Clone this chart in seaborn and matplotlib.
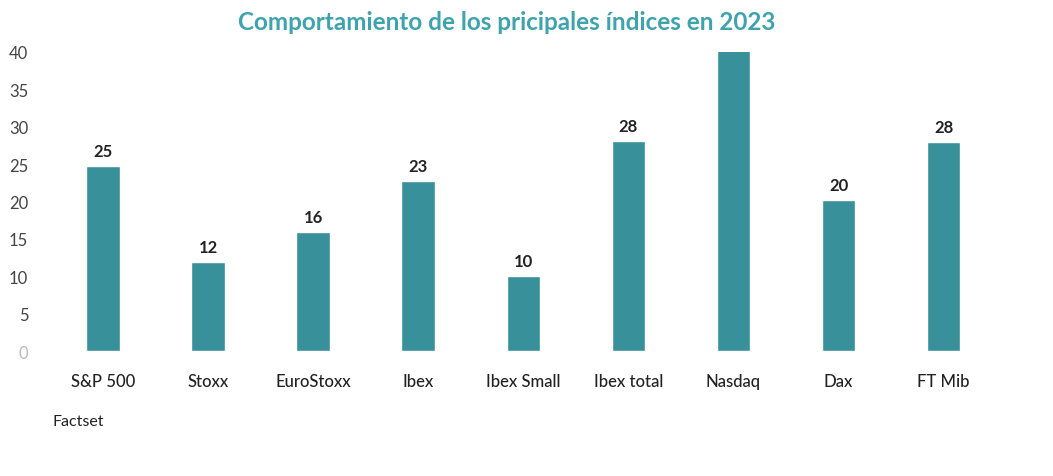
import pandas as pd
import matplotlib
matplotlib.use('Agg')
import matplotlib.pyplot as plt
import seaborn as sns

# Datos del gráfico (rentabilidad % en 2023)
indices = ['S&P 500', 'Stoxx', 'EuroStoxx', 'Ibex', 'Ibex Small',
           'Ibex total', 'Nasdaq', 'Dax', 'FT Mib']
valores = [24.7, 11.9, 15.9, 22.8, 10.1, 28.1, 43.4, 20.2, 28.0]
etiquetas = ['25', '12', '16', '23', '10', '28', '', '20', '28']
ticks_y = [0, 5, 10, 15, 20, 25, 30, 35, 40]

color_barra = '#38909a'
color_titulo = '#3fa3ae'

sns.set_theme(style='white')
plt.rcParams['font.family'] = ['Lato', 'DejaVu Sans']

df = pd.DataFrame({'indice': indices, 'valor': valores})

fig = plt.figure(figsize=(10.53, 4.77), dpi=100)
ax = fig.add_axes([0.048, 0.262, 0.898, 0.627])

sns.barplot(data=df, x='indice', y='valor', color=color_barra,
            width=0.32, saturation=1, ax=ax)

ax.bar_label(ax.containers[0], labels=etiquetas, padding=5,
             fontsize=12, fontweight='bold', color='#222222')

# el Nasdaq se corta en 40, como en el original
ax.set_ylim(0, 40)
ax.set_xlim(-0.5, len(indices) - 0.5)
ax.set_yticks(ticks_y)
ax.set_yticklabels([str(t) for t in ticks_y])
ax.tick_params(axis='y', labelsize=12, labelcolor='#444444', length=0, pad=16)
ax.tick_params(axis='x', labelsize=12, labelcolor='#222222', length=0, pad=16)
for lbl in ax.get_xticklabels():
    lbl.set_fontweight('medium')
ax.get_yticklabels()[0].set_color('#bbbbbb')
ax.set_xlabel('')
ax.set_ylabel('')
for spine in ax.spines.values():
    spine.set_visible(False)
ax.grid(False)

fig.text(0.481, 0.953, 'Comportamiento de los pricipales índices en 2023',
         ha='center', va='center', fontsize=17.5, fontweight='bold',
         color=color_titulo)
fig.text(0.05, 0.115, 'Factset', ha='left', va='center', fontsize=11.5,
         color='#222222')

fig.savefig('out.png', dpi=100)
